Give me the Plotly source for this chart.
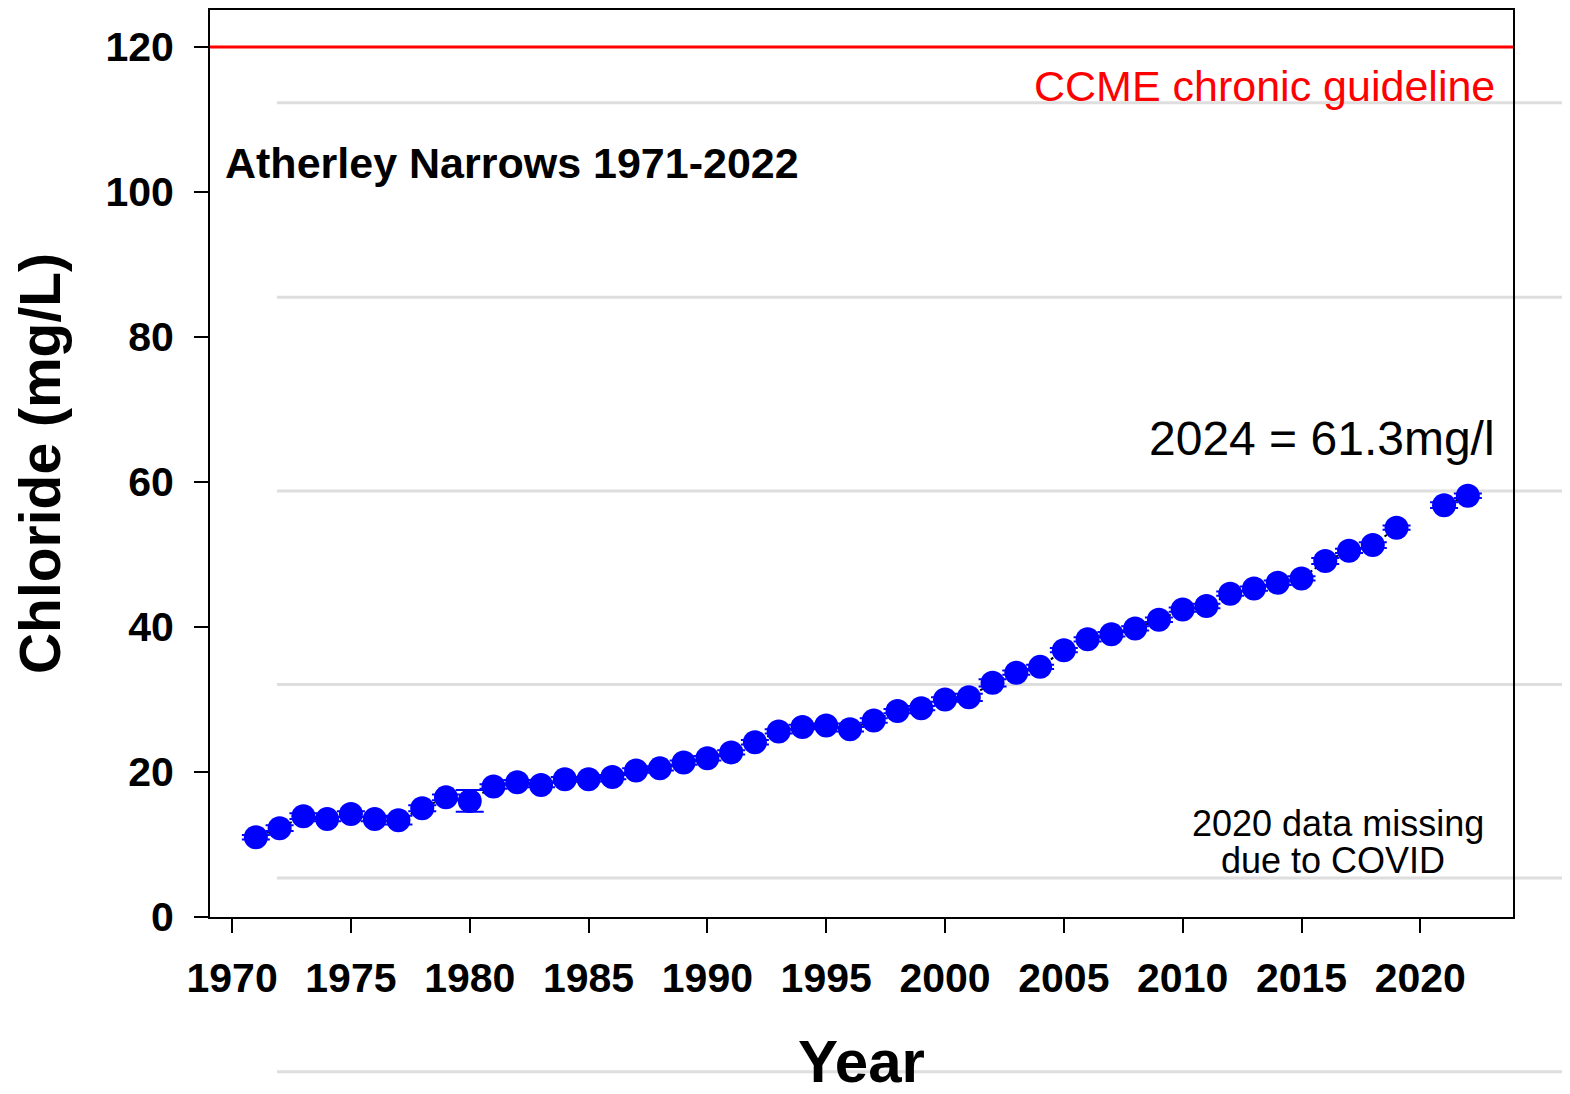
import plotly.graph_objects as go

years = [1971, 1972, 1973, 1974, 1975, 1976, 1977, 1978, 1979, 1980,
         1981, 1982, 1983, 1984, 1985, 1986, 1987, 1988, 1989, 1990,
         1991, 1992, 1993, 1994, 1995, 1996, 1997, 1998, 1999, 2000,
         2001, 2002, 2003, 2004, 2005, 2006, 2007, 2008, 2009, 2010,
         2011, 2012, 2013, 2014, 2015, 2016, 2017, 2018, 2019, 2020,
         2021, 2022]
chloride = [11.0, 12.25, 13.9, 13.5, 14.2, 13.5, 13.35, 15.0, 16.5, 16.0,
            18.0, 18.6, 18.2, 19.0, 19.0, 19.3, 20.2, 20.5, 21.3, 21.9,
            22.7, 24.1, 25.6, 26.2, 26.4, 25.9, 27.1, 28.4, 28.8, 30.0,
            30.3, 32.3, 33.7, 34.5, 36.8, 38.3, 39.0, 39.8, 41.0, 42.4,
            42.9, 44.6, 45.3, 46.1, 46.7, 49.1, 50.5, 51.3, 53.7, None,
            56.8, 58.1]
errors = [0.3, 0.4, 0.4, 0.3, 0.4, 0.3, 0.6, 0.4, 0.4, 1.5,
          0.3, 0.3, 0.3, 0.3, 0.3, 0.3, 0.3, 0.3, 0.3, 0.3,
          0.3, 0.3, 0.3, 0.3, 0.3, 0.3, 0.3, 0.3, 0.3, 0.3,
          0.5, 0.5, 0.3, 0.3, 0.3, 0.3, 0.3, 0.3, 0.3, 0.3,
          0.3, 0.3, 0.3, 0.3, 0.3, 0.4, 0.3, 0.4, 0.3, 0.0,
          0.4, 0.3]
guideline = 120
x_ticks = [1970, 1975, 1980, 1985, 1990, 1995, 2000, 2005, 2010, 2015, 2020]
y_ticks = [0, 20, 40, 60, 80, 100, 120]

FONT = "Arial, Liberation Sans, sans-serif"

# page has an 8px body margin; figure coordinates are page coordinates - 8
OFF = 8
PL, PR, PT, PB = 210, 1513, 8, 917          # plot box in page pixels
PW, PH = PR - PL, PB - PT

fig = go.Figure()

fig.add_trace(go.Scatter(
    x=years, y=chloride, mode="lines",
    line=dict(color="black", width=2, dash="dot"),
    connectgaps=False, showlegend=False, hoverinfo="skip"))

fig.add_trace(go.Scatter(
    x=years, y=chloride, mode="markers",
    marker=dict(color="#0000ff", size=24, line=dict(width=0)),
    error_y=dict(type="data", array=errors, visible=True,
                 color="#0000ff", thickness=2, width=14),
    showlegend=False))

fig.add_shape(type="line", xref="paper", yref="y", x0=0, x1=1,
              y0=guideline, y1=guideline,
              line=dict(color="#ff0000", width=3), layer="above")

for yp in [101, 296, 490, 684, 878, 1072]:
    yy = (PB - yp) / PH
    fig.add_shape(type="line", xref="paper", yref="paper",
                  x0=(277 - PL) / PW, x1=(1590 - PL) / PW,
                  y0=yy, y1=yy,
                  line=dict(color="#dedede", width=3), layer="below")

fig.add_annotation(text="<b>Atherley Narrows 1971-2022</b>",
                   xref="paper", yref="y", x=(223 - PL) / PW, y=104,
                   xanchor="left", yanchor="middle", showarrow=False,
                   font=dict(family=FONT, size=43, color="black"))
fig.add_annotation(text="CCME chronic guideline",
                   xref="paper", yref="y", x=(1497 - PL) / PW, y=114.6,
                   xanchor="right", yanchor="middle", showarrow=False,
                   font=dict(family=FONT, size=43, color="#ff0000"))
fig.add_annotation(text="2024 = 61.3mg/l",
                   xref="paper", yref="y", x=(1497 - PL) / PW, y=66.0,
                   xanchor="right", yanchor="middle", showarrow=False,
                   font=dict(family=FONT, size=48, color="black"))
fig.add_annotation(text="2020 data missing",
                   xref="paper", yref="y", x=(1338 - PL) / PW, y=(PB - 823) / (PH / 125.1),
                   xanchor="center", yanchor="middle", showarrow=False,
                   font=dict(family=FONT, size=36, color="black"))
fig.add_annotation(text="due to COVID",
                   xref="paper", yref="y", x=(1333 - PL) / PW, y=(PB - 860) / (PH / 125.1),
                   xanchor="center", yanchor="middle", showarrow=False,
                   font=dict(family=FONT, size=36, color="black"))

fig.update_layout(
    width=1570, height=1094,
    margin=dict(l=PL - OFF, r=1570 - (PR - OFF), t=PT - OFF, b=1094 - (PB - OFF), pad=0),
    paper_bgcolor="white", plot_bgcolor="rgba(0,0,0,0)",
    font=dict(family=FONT, color="black"),
    showlegend=False,
)

fig.update_xaxes(
    range=[1969.07, 2023.9], tickvals=x_ticks,
    ticktext=["<b>%d</b>" % t for t in x_ticks],
    tickfont=dict(family=FONT, size=41, color="black"),
    ticks="outside", ticklen=14, tickwidth=2, tickcolor="black",
    ticklabelstandoff=10,
    showline=True, linecolor="black", linewidth=2, mirror=True,
    showgrid=False, zeroline=False,
    title=dict(text="<b>Year</b>", font=dict(family=FONT, size=60, color="black"),
               standoff=40),
)
fig.update_yaxes(
    range=[0, 125.1], tickvals=y_ticks,
    ticktext=["<b>%d</b>" % t for t in y_ticks],
    tickfont=dict(family=FONT, size=41, color="black"),
    ticks="outside", ticklen=14, tickwidth=2, tickcolor="black",
    ticklabelstandoff=12,
    showline=True, linecolor="black", linewidth=2, mirror=True,
    showgrid=False, zeroline=False,
    title=dict(text="<b>Chloride (mg/L)</b>", font=dict(family=FONT, size=57, color="black"),
               standoff=38),
)

fig.write_html("out.html")
